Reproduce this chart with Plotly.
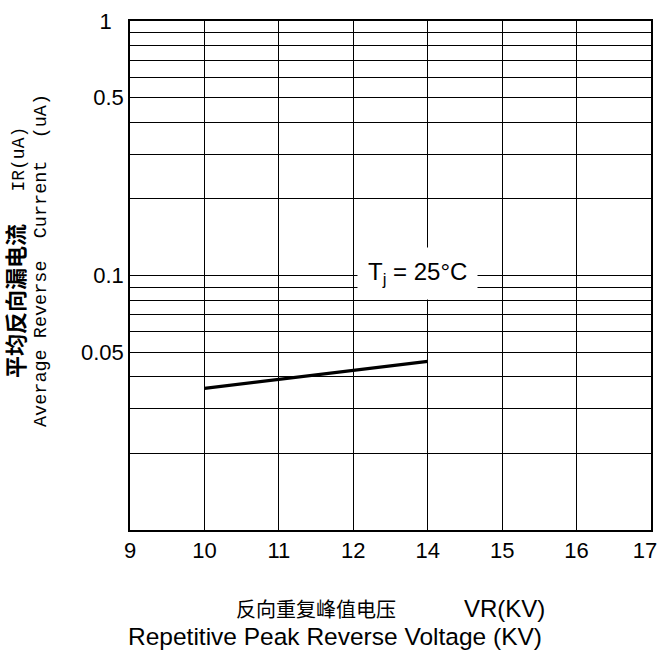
import plotly.graph_objects as go

# ---- data ----
x_labels = ["9", "10", "11", "12", "14", "15", "16", "17"]
vr_kv = ["10", "14"]
ir_ua = [0.036, 0.046]

y_grid = [0.01, 0.02, 0.03, 0.04, 0.05, 0.06, 0.07, 0.08, 0.09,
          0.1, 0.2, 0.3, 0.4, 0.5, 0.6, 0.7, 0.8, 0.9, 1.0]
y_label_map = {1.0: "1\u00a0\u00a0", 0.5: "0.5", 0.1: "0.1", 0.05: "0.05"}
y_text = [y_label_map.get(v, " ") for v in y_grid]
# last label nudged left a little so it stays inside the page
x_text = x_labels[:-1] + [x_labels[-1] + "\u00a0\u00a0"]

W, H = 658, 654
L, R, T, B = 130, 7, 21, 124
pw, ph = W - L - R, H - T - B

def px(x):
    return (x - L) / pw

def py(y):
    return (H - B - y) / ph

fig = go.Figure()
fig.add_trace(go.Scatter(
    x=vr_kv, y=ir_ua, mode="lines",
    line=dict(color="black", width=3.2),
    showlegend=False, hoverinfo="skip",
))

fig.update_layout(
    width=W, height=H,
    margin=dict(l=L, r=R, t=T, b=B, pad=0, autoexpand=False),
    paper_bgcolor="white", plot_bgcolor="white",
    xaxis=dict(
        type="category", categoryorder="array", categoryarray=x_labels,
        tickvals=x_labels, ticktext=x_text, automargin=False,
        range=[0, 7], showgrid=True, gridcolor="black", gridwidth=1,
        showline=True, linecolor="black", linewidth=1.5, mirror=True,
        ticks="", zeroline=False,
        tickfont=dict(family="Liberation Sans, Arial", size=22, color="black"),
    ),
    yaxis=dict(
        type="log", range=[-2, 0], automargin=False,
        tickvals=y_grid, ticktext=y_text,
        showgrid=True, gridcolor="black", gridwidth=1,
        showline=True, linecolor="black", linewidth=1.5, mirror=True,
        ticks="", zeroline=False,
        tickfont=dict(family="Liberation Sans, Arial", size=22, color="black"),
    ),
    annotations=[
        dict(text="T<sub>j</sub> = 25°C", xref="paper", yref="paper",
             x=px(417), y=py(273.5), xanchor="center", yanchor="middle",
             showarrow=False, bgcolor="white", borderpad=10,
             font=dict(family="Liberation Sans, Arial", size=24, color="black")),
        dict(text="<b><span style=\"font-size:22px\">平均反向漏电流</span></b>\u00a0\u00a0\u00a0IR(uA)",
             xref="paper", yref="paper",
             x=px(18), y=py(253), xanchor="center", yanchor="middle",
             textangle=-90, showarrow=False,
             font=dict(family="Liberation Mono, Noto Sans CJK SC", size=18, color="black")),
        dict(text="Average Reverse\u00a0\u00a0Current\u00a0\u00a0(uA)", xref="paper", yref="paper",
             x=px(41), y=py(261), xanchor="center", yanchor="middle",
             textangle=-90, showarrow=False,
             font=dict(family="Liberation Mono, Noto Sans CJK SC", size=18.5, color="black")),
        dict(text="反向重复峰值电压", xref="paper", yref="paper",
             x=px(316), y=py(608), xanchor="center", yanchor="middle",
             showarrow=False,
             font=dict(family="Noto Sans CJK SC", size=20, color="black")),
        dict(text="VR(KV)", xref="paper", yref="paper",
             x=px(504), y=py(608), xanchor="center", yanchor="middle",
             showarrow=False,
             font=dict(family="Liberation Sans, Arial", size=24, color="black")),
        dict(text="Repetitive Peak Reverse Voltage (KV)", xref="paper", yref="paper",
             x=px(335), y=py(636), xanchor="center", yanchor="middle",
             showarrow=False,
             font=dict(family="Liberation Sans, Arial", size=24.5, color="black")),
    ],
)

fig.write_html("out.html", config={"displayModeBar": False},
               post_script="document.body.style.margin='0px';")
